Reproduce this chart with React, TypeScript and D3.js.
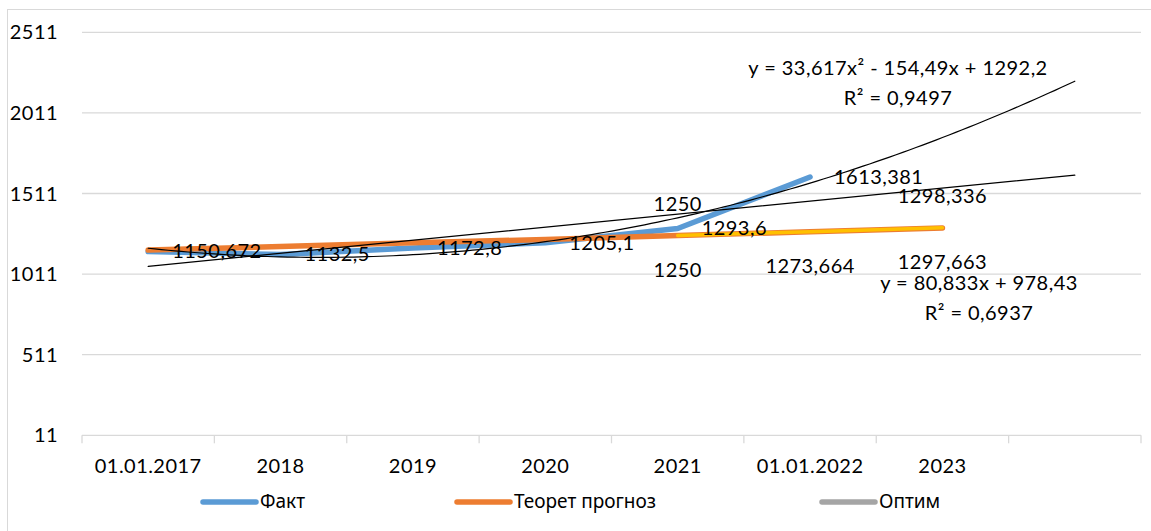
import React, { useRef, useEffect } from 'react';
import * as d3 from 'd3';

const categories = ['01.01.2017', '2018', '2019', '2020', '2021', '01.01.2022', '2023', ''];
const fact = [1150.672, 1132.5, 1172.8, 1205.1, 1293.6, 1613.381];
const theor = [1160, 1182, 1205, 1226, 1250, 1273.664, 1297.663];
const optim = [null, null, null, null, 1250, 1274, 1298.336];
const theorLabelFrom = 4;
const optimLabelIdx = [4, 6];
const yTicks = [11, 511, 1011, 1511, 2011, 2511];
const polyCoef = [33.617, -154.49, 1292.2];
const linCoef = [80.833, 978.43];
const polyText = ['y = 33,617x² - 154,49x + 1292,2', 'R² = 0,9497'];
const linText = ['y = 80,833x + 978,43', 'R² = 0,6937'];
const legendNames = ['Факт', 'Теорет прогноз', 'Оптим'];

const FONT = "Lato, 'Open Sans', sans-serif";
const FS = '20px';
const LS = '0.45px';

export default function App() {
  const ref = useRef(null);

  useEffect(() => {
    document.body.style.margin = '0';
    const svg = d3.select(ref.current);
    svg.selectAll('*').remove();

    const W = 1151, H = 531;
    const left = 82, right = 1141, top = 32.3, bottom = 435.3;

    // frame
    svg.append('rect')
      .attr('x', 7.5).attr('y', 9.5)
      .attr('width', W).attr('height', H)
      .attr('fill', 'white').attr('stroke', '#d9d9d9');

    const x = d3.scaleBand().domain(categories.map((c, i) => String(i))).range([left, right]);
    const cx = (i) => x(String(i)) + x.bandwidth() / 2;
    const y = d3.scaleLinear().domain([11, 2511]).range([bottom, top]);
    const xn = d3.scaleLinear().domain([1, 8]).range([cx(0), cx(7)]);

    const txt = (sel) => sel.style('font-family', FONT).style('font-size', FS)
      .style('letter-spacing', LS).attr('fill', '#000');

    // gridlines
    svg.append('g').selectAll('line').data(yTicks.slice(1)).join('line')
      .attr('x1', left).attr('x2', right)
      .attr('y1', d => y(d)).attr('y2', d => y(d))
      .attr('stroke', '#d9d9d9').attr('stroke-width', 1.3);

    // y labels
    svg.append('g').call(txt).selectAll('text').data(yTicks).join('text')
      .attr('x', 58).attr('y', d => y(d))
      .attr('dy', '0.35em')
      .attr('text-anchor', 'end')
      .text(d => d);

    // x axis
    const xAxis = svg.append('g');
    xAxis.append('line')
      .attr('x1', left).attr('x2', right).attr('y1', bottom).attr('y2', bottom)
      .attr('stroke', '#d9d9d9').attr('stroke-width', 1.3);
    xAxis.selectAll('line.tick').data(d3.range(categories.length + 1)).join('line')
      .attr('class', 'tick')
      .attr('x1', i => left + i * x.step()).attr('x2', i => left + i * x.step())
      .attr('y1', bottom).attr('y2', bottom + 8)
      .attr('stroke', '#d9d9d9').attr('stroke-width', 1.3);
    xAxis.append('g').call(txt).selectAll('text').data(categories).join('text')
      .attr('x', (d, i) => cx(i)).attr('y', 473)
      .attr('text-anchor', 'middle')
      .text(d => d);

    const line = d3.line()
      .defined(d => d[1] != null)
      .x(d => cx(d[0])).y(d => y(d[1]));

    const lines = svg.append('g').attr('fill', 'none')
      .attr('stroke-linecap', 'round').attr('stroke-linejoin', 'round');

    lines.append('path').attr('d', line(fact.map((v, i) => [i, v])))
      .attr('stroke', '#5b9bd5').attr('stroke-width', 5.5);
    lines.append('path').attr('d', line(theor.map((v, i) => [i, v])))
      .attr('stroke', '#ed7d31').attr('stroke-width', 5.5);
    lines.append('path').attr('d', line(optim.map((v, i) => [i, v])))
      .attr('stroke', '#ffc000').attr('stroke-width', 3.5);

    // trendlines
    const poly = (t) => polyCoef[0] * t * t + polyCoef[1] * t + polyCoef[2];
    const lin = (t) => linCoef[0] * t + linCoef[1];
    const ts = d3.range(1, 8.001, 0.05);
    const tl = d3.line().x(t => xn(t));
    lines.append('path').attr('d', tl.y(t => y(poly(t)))(ts))
      .attr('stroke', '#000').attr('stroke-width', 1.2);
    lines.append('path').attr('d', tl.y(t => y(lin(t)))([1, 8]))
      .attr('stroke', '#000').attr('stroke-width', 1.2);

    // data labels
    const fmt = (v) => String(v).replace('.', ',');
    const labels = svg.append('g').call(txt);
    fact.forEach((v, i) => {
      labels.append('text').attr('x', cx(i) + 24).attr('y', y(v) + 6.7).text(fmt(v));
    });
    theor.forEach((v, i) => {
      if (i < theorLabelFrom) return;
      labels.append('text').attr('x', cx(i)).attr('y', y(v) + 41.5)
        .attr('text-anchor', 'middle').text(fmt(v));
    });
    optimLabelIdx.forEach((i) => {
      labels.append('text').attr('x', cx(i)).attr('y', y(optim[i]) - 25)
        .attr('text-anchor', 'middle').text(fmt(optim[i]));
    });

    // trendline equations
    const eq = svg.append('g').call(txt).attr('text-anchor', 'middle');
    polyText.forEach((t, i) => eq.append('text').attr('x', 898).attr('y', 75 + i * 30).text(t));
    linText.forEach((t, i) => eq.append('text').attr('x', 979).attr('y', 290 + i * 30).text(t));

    // legend
    const legendColors = ['#5b9bd5', '#ed7d31', '#a5a5a5'];
    const legendX = [203, 457, 822];
    const lg = svg.append('g');
    legendNames.forEach((n, i) => {
      lg.append('line')
        .attr('x1', legendX[i]).attr('x2', legendX[i] + 53)
        .attr('y1', 502).attr('y2', 502)
        .attr('stroke', legendColors[i]).attr('stroke-width', 5.5)
        .attr('stroke-linecap', 'round');
      lg.append('text')
        .attr('x', legendX[i] + 57).attr('y', 508)
        .style('font-family', "'Noto Sans', 'DejaVu Sans', sans-serif")
        .style('font-size', '19px')
        .attr('fill', '#000')
        .text(n);
    });
  }, []);

  return (
    <div>
      <svg ref={ref} width={1151} height={531} style={{ display: 'block' }}></svg>
    </div>
  );
}
